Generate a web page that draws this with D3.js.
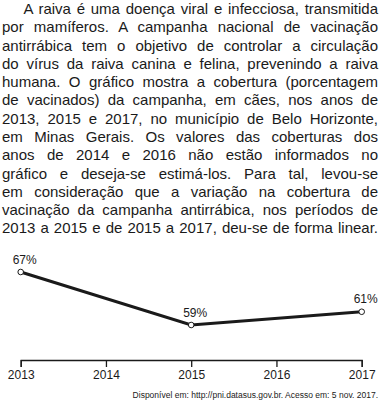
<!DOCTYPE html>
<html>
<head>
<meta charset="utf-8">
<script src="https://cdn.jsdelivr.net/npm/d3@7"></script>
<style>
  body { margin: 0; background: #fff; }
  svg { display: block; font-family: "Liberation Sans", Arial, sans-serif; }
</style>
</head>
<body>
<svg class="chart" width="383" height="405"></svg>
<script>
// data
const years = [2013, 2014, 2015, 2016, 2017];
const knownYears = [2013, 2015, 2017];
const coverage = [67, 59, 61];
const paragraph = [
  "A raiva é uma doença viral e infecciosa, transmitida",
  "por mamíferos. A campanha nacional de vacinação",
  "antirrábica tem o objetivo de controlar a circulação",
  "do vírus da raiva canina e felina, prevenindo a raiva",
  "humana. O gráfico mostra a cobertura (porcentagem",
  "de vacinados) da campanha, em cães, nos anos de",
  "2013, 2015 e 2017, no município de Belo Horizonte,",
  "em Minas Gerais. Os valores das coberturas dos",
  "anos de 2014 e 2016 não estão informados no",
  "gráfico e deseja-se estimá-los. Para tal, levou-se",
  "em consideração que a variação na cobertura de",
  "vacinação da campanha antirrábica, nos períodos de",
  "2013 a 2015 e de 2015 a 2017, deu-se de forma linear."
];
const source = "Disponível em: http://pni.datasus.gov.br. Acesso em: 5 nov. 2017.";

const points = knownYears.map((y, i) => ({ year: y, value: coverage[i] }));

const svg = d3.select("svg.chart");

// justified paragraph
const textG = svg.append('g').attr('fill', '#1a1a1a').style('font-size', '15px');
paragraph.forEach((line, i) => {
  const x0 = i === 0 ? 23.5 : 2;
  const target = 378 - x0;
  const t = textG.append('text')
    .attr('x', x0)
    .attr('y', 14 + i * 18.28)
    .text(line);
  const w = t.node().getComputedTextLength();
  const spaces = line.split(' ').length - 1;
  if (w <= target) {
    t.attr('word-spacing', (target - w) / spaces);
  } else {
    t.attr('textLength', target).attr('lengthAdjust', 'spacing');
  }
});

// chart
const x = d3.scaleLinear().domain([2013, 2017]).range([20.7, 361.7]);
const y = d3.scaleLinear().domain([59, 67]).range([325, 272]);

const axisY = 360;
const axis = svg.append('g')
  .attr('transform', `translate(0, ${axisY})`)
  .call(d3.axisBottom(x).tickValues(years).tickFormat(d3.format('d')).tickSize(7).tickSizeOuter(7));
axis.selectAll('path, line').attr('stroke', '#1a1a1a').attr('stroke-width', 1.3);
axis.selectAll('text')
  .attr('fill', '#1a1a1a')
  .style('font-size', '12px')
  .style('font-family', '"Liberation Sans", Arial, sans-serif');

const line = d3.line().x(d => x(d.year)).y(d => y(d.value));

svg.append('path')
  .datum(points)
  .attr('d', line)
  .attr('fill', 'none')
  .attr('stroke', '#1a1a1a')
  .attr('stroke-width', 3);

svg.selectAll('circle.pt').data(points)
  .enter().append('circle')
    .attr('class', 'pt')
    .attr('cx', d => x(d.year))
    .attr('cy', d => y(d.value))
    .attr('r', 2.8)
    .attr('fill', '#fff')
    .attr('stroke', '#1a1a1a')
    .attr('stroke-width', 1);

svg.selectAll('text.lbl').data(points)
  .enter().append('text')
    .attr('class', 'lbl')
    .attr('x', d => x(d.year) + 4)
    .attr('y', d => y(d.value) - 8.5)
    .attr('text-anchor', 'middle')
    .attr('fill', '#1a1a1a')
    .style('font-size', '12px')
    .text(d => d.value + '%');

svg.append('text')
  .attr('x', 378)
  .attr('y', 397.5)
  .attr('text-anchor', 'end')
  .attr('fill', '#1a1a1a')
  .style('font-size', '8.5px')
  .text(source);
</script>
</body>
</html>
